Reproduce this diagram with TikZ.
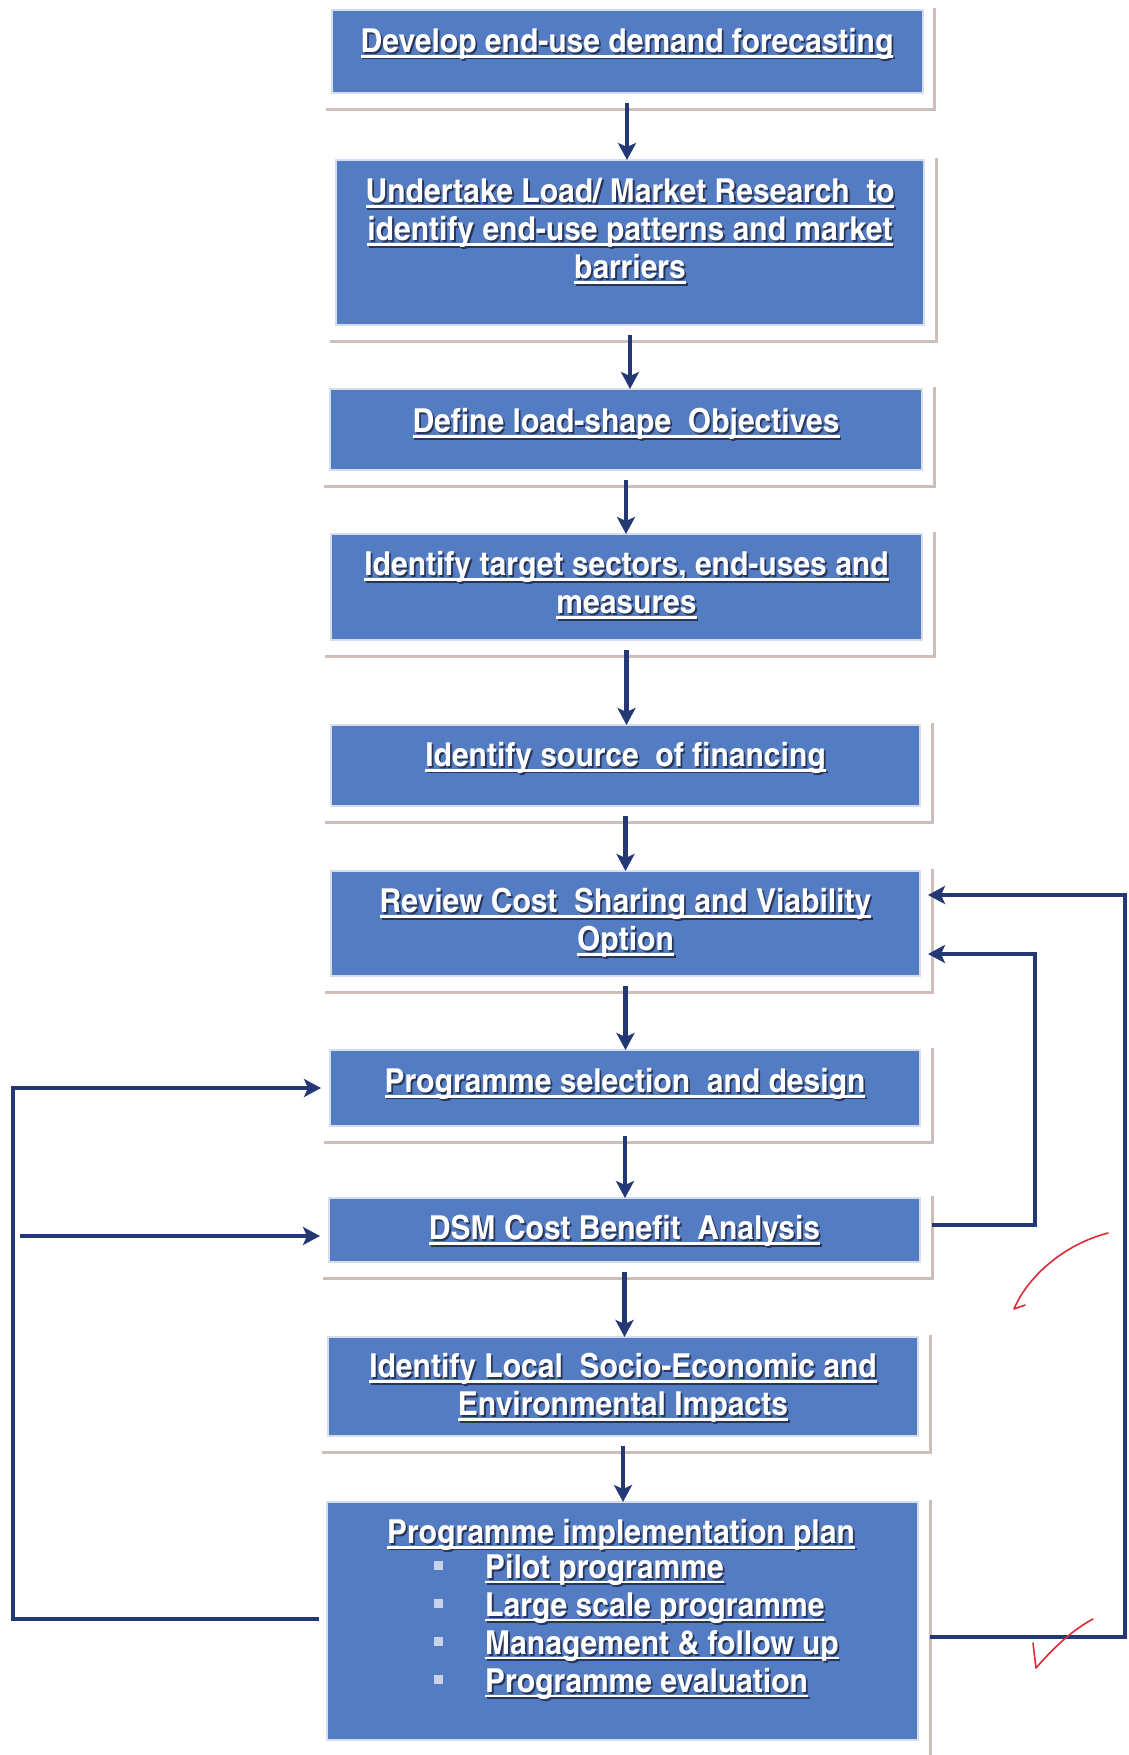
\documentclass[tikz,border=0pt]{standalone}
\usepackage{fontspec}
\newfontfamily\cnb{TeX Gyre Heros Cn}[FakeStretch=1.11]
\usetikzlibrary{arrows.meta}
\definecolor{boxblue}{RGB}{83,124,194}
\definecolor{boxrim}{RGB}{215,222,235}
\definecolor{framec}{RGB}{205,190,185}
\definecolor{navy}{RGB}{36,56,118}
\definecolor{shadowc}{RGB}{40,52,88}
\definecolor{bulc}{RGB}{200,210,232}
\definecolor{pen}{RGB}{225,40,55}
\newsavebox\ulbox
\newcommand\ulx[1]{\sbox\ulbox{#1}\rlap{\rule[-5pt]{\wd\ulbox}{2.4pt}}\usebox\ulbox}
\newcommand\stx[1]{\rlap{\hspace*{1.8pt}\raisebox{-1.8pt}{\color{shadowc}\ulx{#1}}}\ulx{#1}}
\newcommand\bul{\makebox[51pt][l]{\textcolor{bulc}{\rule[8pt]{9pt}{9pt}}}}
\tikzset{
  box/.style={fill=boxblue, draw=boxrim, line width=2pt, inner sep=0pt, outer sep=0pt},
  frameline/.style={draw=framec, line width=3pt},
  txt/.style={text=white, font=\cnb\bfseries\fontsize{33}{38}\selectfont, align=center, inner sep=0pt},
  arr/.style={draw=navy, line width=4.5pt, -{Stealth[length=17pt,width=18pt,inset=4pt]}},
  redpen/.style={draw=pen, line width=1.6pt, line cap=round, line join=round}
}
\begin{document}
\begin{tikzpicture}[x=1pt,y=-1pt]
\useasboundingbox[fill=white] (0,0) rectangle (1128,1755);
% boxes
\node[box, minimum width=591pt, minimum height=83pt]  (b1)  at (627,52) {};
\node[box, minimum width=588pt, minimum height=165pt] (b2)  at (630,242.5) {};
\node[box, minimum width=592pt, minimum height=81pt]  (b3)  at (626,429.5) {};
\node[box, minimum width=591pt, minimum height=106pt] (b4)  at (626.5,587) {};
\node[box, minimum width=589pt, minimum height=81pt]  (b5)  at (625.5,765.5) {};
\node[box, minimum width=589pt, minimum height=105pt] (b6)  at (625.5,923.5) {};
\node[box, minimum width=590pt, minimum height=76pt]  (b7)  at (625,1088) {};
\node[box, minimum width=591pt, minimum height=64pt]  (b8)  at (624.5,1230) {};
\node[box, minimum width=590pt, minimum height=99pt]  (b9)  at (623,1386.5) {};
\node[box, minimum width=591pt, minimum height=238pt] (b10) at (622.5,1621) {};
% shadow frames
\foreach \b in {b1,b2,b3,b4,b5,b6,b7,b8,b9,b10}{
  \draw[frameline] ([xshift=-6pt,yshift=-16pt]\b.south west) -- ([xshift=12pt,yshift=-16pt]\b.south east)
     -- ([xshift=12pt,yshift=2pt]\b.north east);
}
% texts
\node[txt] (t1) at (627,45) {\stx{Develop end-use demand forecasting}};
\node[txt] (t2) at (630,232) {\stx{Undertake Load/ Market Research\ \ to}\\\stx{identify end-use patterns and market}\\\stx{barriers}};
\node[txt] (t3) at (626,425) {\stx{Define load-shape\ \ Objectives}};
\node[txt] (t4) at (626.5,586) {\stx{Identify target sectors, end-uses and}\\\stx{measures}};
\node[txt] (t5) at (625.5,759) {\stx{Identify source\ \ of financing}};
\node[txt] (t6) at (625.5,924) {\stx{Review Cost\ \ Sharing and Viability}\\\stx{Option}};
\node[txt] (t7) at (625,1085) {\stx{Programme selection\ \ and design}};
\node[txt] (t8) at (624.5,1232) {\stx{DSM Cost Benefit\ \ Analysis}};
\node[txt] (t9) at (623,1389) {\stx{Identify Local\ \ Socio-Economic and}\\\stx{Environmental Impacts}};
\node[txt] (t10) at (621,1536) {\stx{Programme implementation plan}};
\node[txt, align=left, anchor=north west] (t10b) at (434,1554)
  {\bul\stx{Pilot programme}\\\bul\stx{Large scale programme}\\\bul\stx{Management \& follow up}\\\bul\stx{Programme evaluation}};
% main flow arrows
\draw[arr] ([yshift=-10pt]b1.south) -- (b1.south |- b2.north);
\draw[arr] ([yshift=-10pt]b2.south) -- (b2.south |- b3.north);
\draw[arr] ([yshift=-10pt]b3.south) -- (b3.south |- b4.north);
\draw[arr] ([yshift=-10pt]b4.south) -- (b4.south |- b5.north);
\draw[arr] ([yshift=-10pt]b5.south) -- (b5.south |- b6.north);
\draw[arr] ([yshift=-10pt]b6.south) -- (b6.south |- b7.north);
\draw[arr] ([yshift=-10pt]b7.south) -- (b7.south |- b8.north);
\draw[arr] ([yshift=-10pt]b8.south) -- (b8.south |- b9.north);
\draw[arr] ([yshift=-10pt]b9.south) -- (b9.south |- b10.north);
% left feedback
\coordinate (lb) at (13,1619);
\coordinate (lm) at (20,1236);
\draw[arr, shorten >=9pt] ([xshift=-8pt]b10.west |- lb) -- (lb) |- (b7.west);
\draw[arr, shorten >=9pt] (lm) -- (b8.west |- lm);
% right feedback
\coordinate (ri) at (1035,1225);
\coordinate (ro) at (1125,1637);
\draw[arr, shorten >=8pt] ([xshift=12pt]b8.east |- ri) -- (ri) |- ([yshift=-30.5pt]b6.east);
\draw[arr, shorten >=8pt] ([xshift=12pt]b10.east |- ro) -- (ro) |- ([yshift=28.5pt]b6.east);
% handwritten red marks
\draw[redpen] (1108,1233) .. controls (1062,1245) and (1027,1278) .. (1014,1309) -- (1025,1305);
\draw[redpen] (1033,1643) .. controls (1034,1655) .. (1036,1668) .. controls (1055,1646) and (1074,1629) .. (1093,1619);
\end{tikzpicture}
\end{document}
